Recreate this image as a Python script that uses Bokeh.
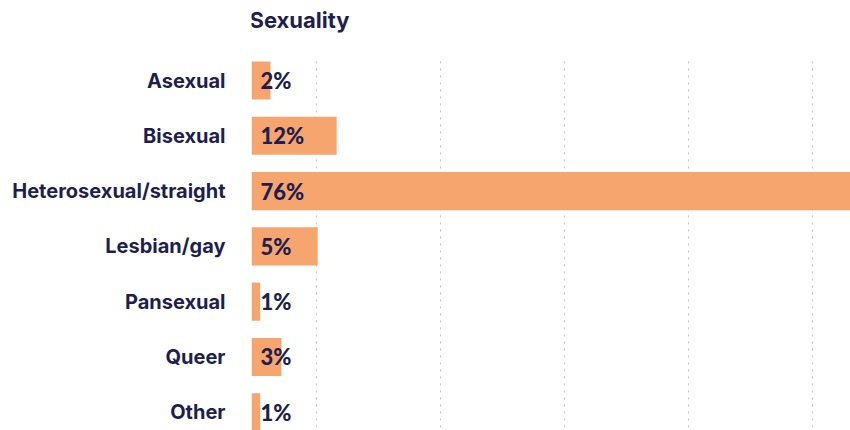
from bokeh.plotting import figure
from bokeh.models import Range1d, FixedTicker, ColumnDataSource, Label
from bokeh.embed import file_html
from bokeh.resources import INLINE
from bokeh.core.properties import value

# ---- data ----
title_text = "Sexuality"
categories = ["Asexual", "Bisexual", "Heterosexual/straight", "Lesbian/gay",
              "Pansexual", "Queer", "Other"]
share_labels = ["2%", "12%", "76%", "5%", "1%", "3%", "1%"]
# bar lengths as drawn in the picture (percent units)
bar_lengths = [2.4, 10.8, 76, 8.4, 1.1, 3.8, 1.1]
grid_ticks = [8.25, 23.98, 39.71, 55.45, 71.18]

NAVY = "#1e1f4f"
BAR = "#f7a56f"
GRID = "#c4c4c4"

rows = list(range(len(categories)))
BAR_H = 0.69
Y_TOP, Y_BOTTOM = -1.447, 6.33
TITLE_Y = -1.103

src = ColumnDataSource(dict(row=rows, length=bar_lengths, label=share_labels))

p = figure(width=850, height=430, output_backend="svg", toolbar_location=None,
           x_range=Range1d(0, 76), y_range=Range1d(Y_BOTTOM, Y_TOP),
           min_border_left=251, min_border_right=0, min_border_bottom=0,
           min_border_top=0)

# dotted vertical guide lines, from the top of the first bar downwards
gsrc = ColumnDataSource(dict(x=grid_ticks,
                             y0=[rows[0] - BAR_H / 2] * len(grid_ticks),
                             y1=[Y_BOTTOM] * len(grid_ticks)))
p.segment(x0="x", x1="x", y0="y0", y1="y1", source=gsrc,
          line_color=GRID, line_dash="2 5", line_width=1)

p.hbar(y="row", left=0, right="length", height=BAR_H, source=src,
       fill_color=BAR, line_color=None)

p.text(x=0, y="row", text="label", source=src, x_offset=9,
       text_align="left", text_baseline="middle",
       text_font=value("Lato Black"), text_font_style="bold",
       text_font_size="22px", text_color=NAVY)

p.xaxis.visible = False
p.xgrid.grid_line_color = None
p.ygrid.grid_line_color = None
p.outline_line_color = None

ax = p.yaxis[0]
ax.ticker = FixedTicker(ticks=rows)
ax.major_label_overrides = {i: c for i, c in enumerate(categories)}
ax.axis_line_color = None
ax.major_tick_line_color = None
ax.minor_tick_line_color = None
ax.major_label_standoff = 20
ax.major_label_text_font = "Inter"
ax.major_label_text_font_size = "20px"
ax.major_label_text_color = NAVY
ax.major_label_text_font_style = "bold"

title = Label(x=0, y=TITLE_Y, x_offset=-2, text=title_text,
              text_font="Inter", text_font_size="22px",
              text_font_style="bold", text_color=NAVY,
              text_align="left", text_baseline="middle")
p.add_layout(title)

open("out.html", "w").write(file_html(p, INLINE))
